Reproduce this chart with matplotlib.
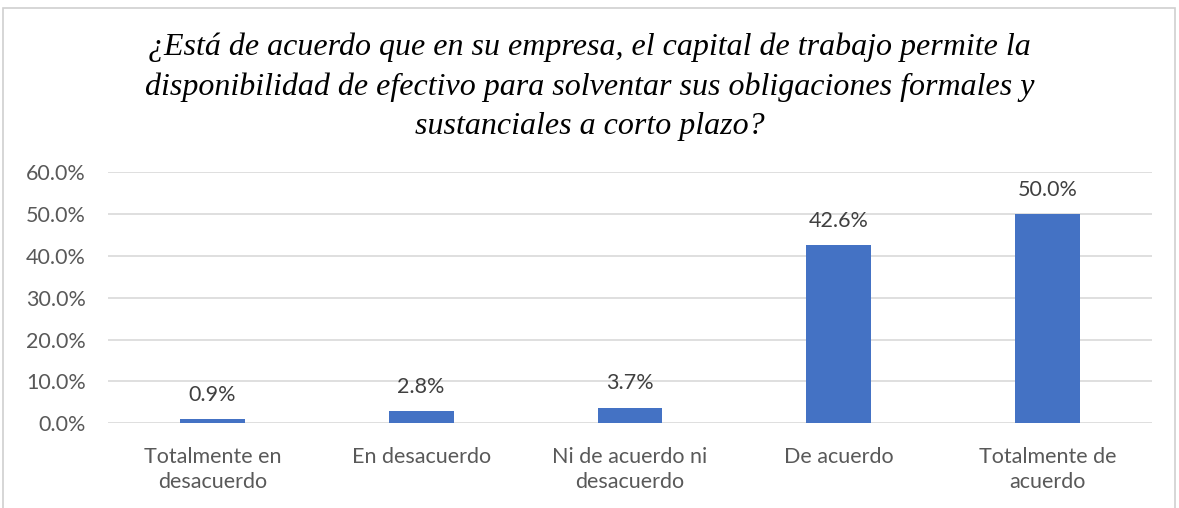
import matplotlib.pyplot as plt
from matplotlib.patches import Rectangle
from matplotlib.ticker import PercentFormatter, MultipleLocator

# datos
categorias = ['Totalmente en\ndesacuerdo', 'En desacuerdo', 'Ni de acuerdo ni\ndesacuerdo',
              'De acuerdo', 'Totalmente de\nacuerdo']
porcentajes = [0.9, 2.8, 3.7, 42.6, 50.0]
titulo = ('¿Está de acuerdo que en su empresa, el capital de trabajo permite la\n'
          'disponibilidad de efectivo para solventar sus obligaciones formales y\n'
          'sustanciales a corto plazo?')

fig = plt.figure(figsize=(11.79, 5.08), dpi=100)
ax = fig.add_axes([0.0916, 0.167, 0.8854, 0.494])

x = range(len(categorias))
barras = ax.bar(x, porcentajes, width=0.31, color='#4472C4', zorder=3)

for b, v in zip(barras, porcentajes):
    ax.text(b.get_x() + b.get_width() / 2, v + 3.4, f'{v:.1f}%', ha='center', va='bottom',
            fontsize=15.5, color='#404040', family='Lato')

ax.set_ylim(0, 60)
ax.set_xlim(-0.5, len(categorias) - 0.5)
ax.yaxis.set_major_locator(MultipleLocator(10))
ax.yaxis.set_major_formatter(PercentFormatter(decimals=1))
ax.grid(axis='y', color='#D9D9D9', linewidth=1.2, zorder=0)
for s in ax.spines.values():
    s.set_visible(False)
ax.tick_params(length=0, labelsize=15.5, colors='#595959')
ax.tick_params(axis='y', pad=16)
ax.tick_params(axis='x', pad=17)
ax.set_xticks(list(x))
ax.set_xticklabels(categorias, family='Lato', linespacing=1.3)
for t in ax.get_yticklabels():
    t.set_family('Lato')

fig.text(0.5, 0.829, titulo, ha='center', va='center', fontsize=23, style='italic',
         family='Liberation Serif', linespacing=1.45, color='#000000')

# borde del gráfico
fig.patches.append(Rectangle((3 / 1179, -0.05), 1172 / 1179, 1 - 8 / 508 + 0.05,
                             transform=fig.transFigure, fill=False, edgecolor='#D0D0D0',
                             linewidth=1.2))

fig.savefig('out.png', dpi=100)
